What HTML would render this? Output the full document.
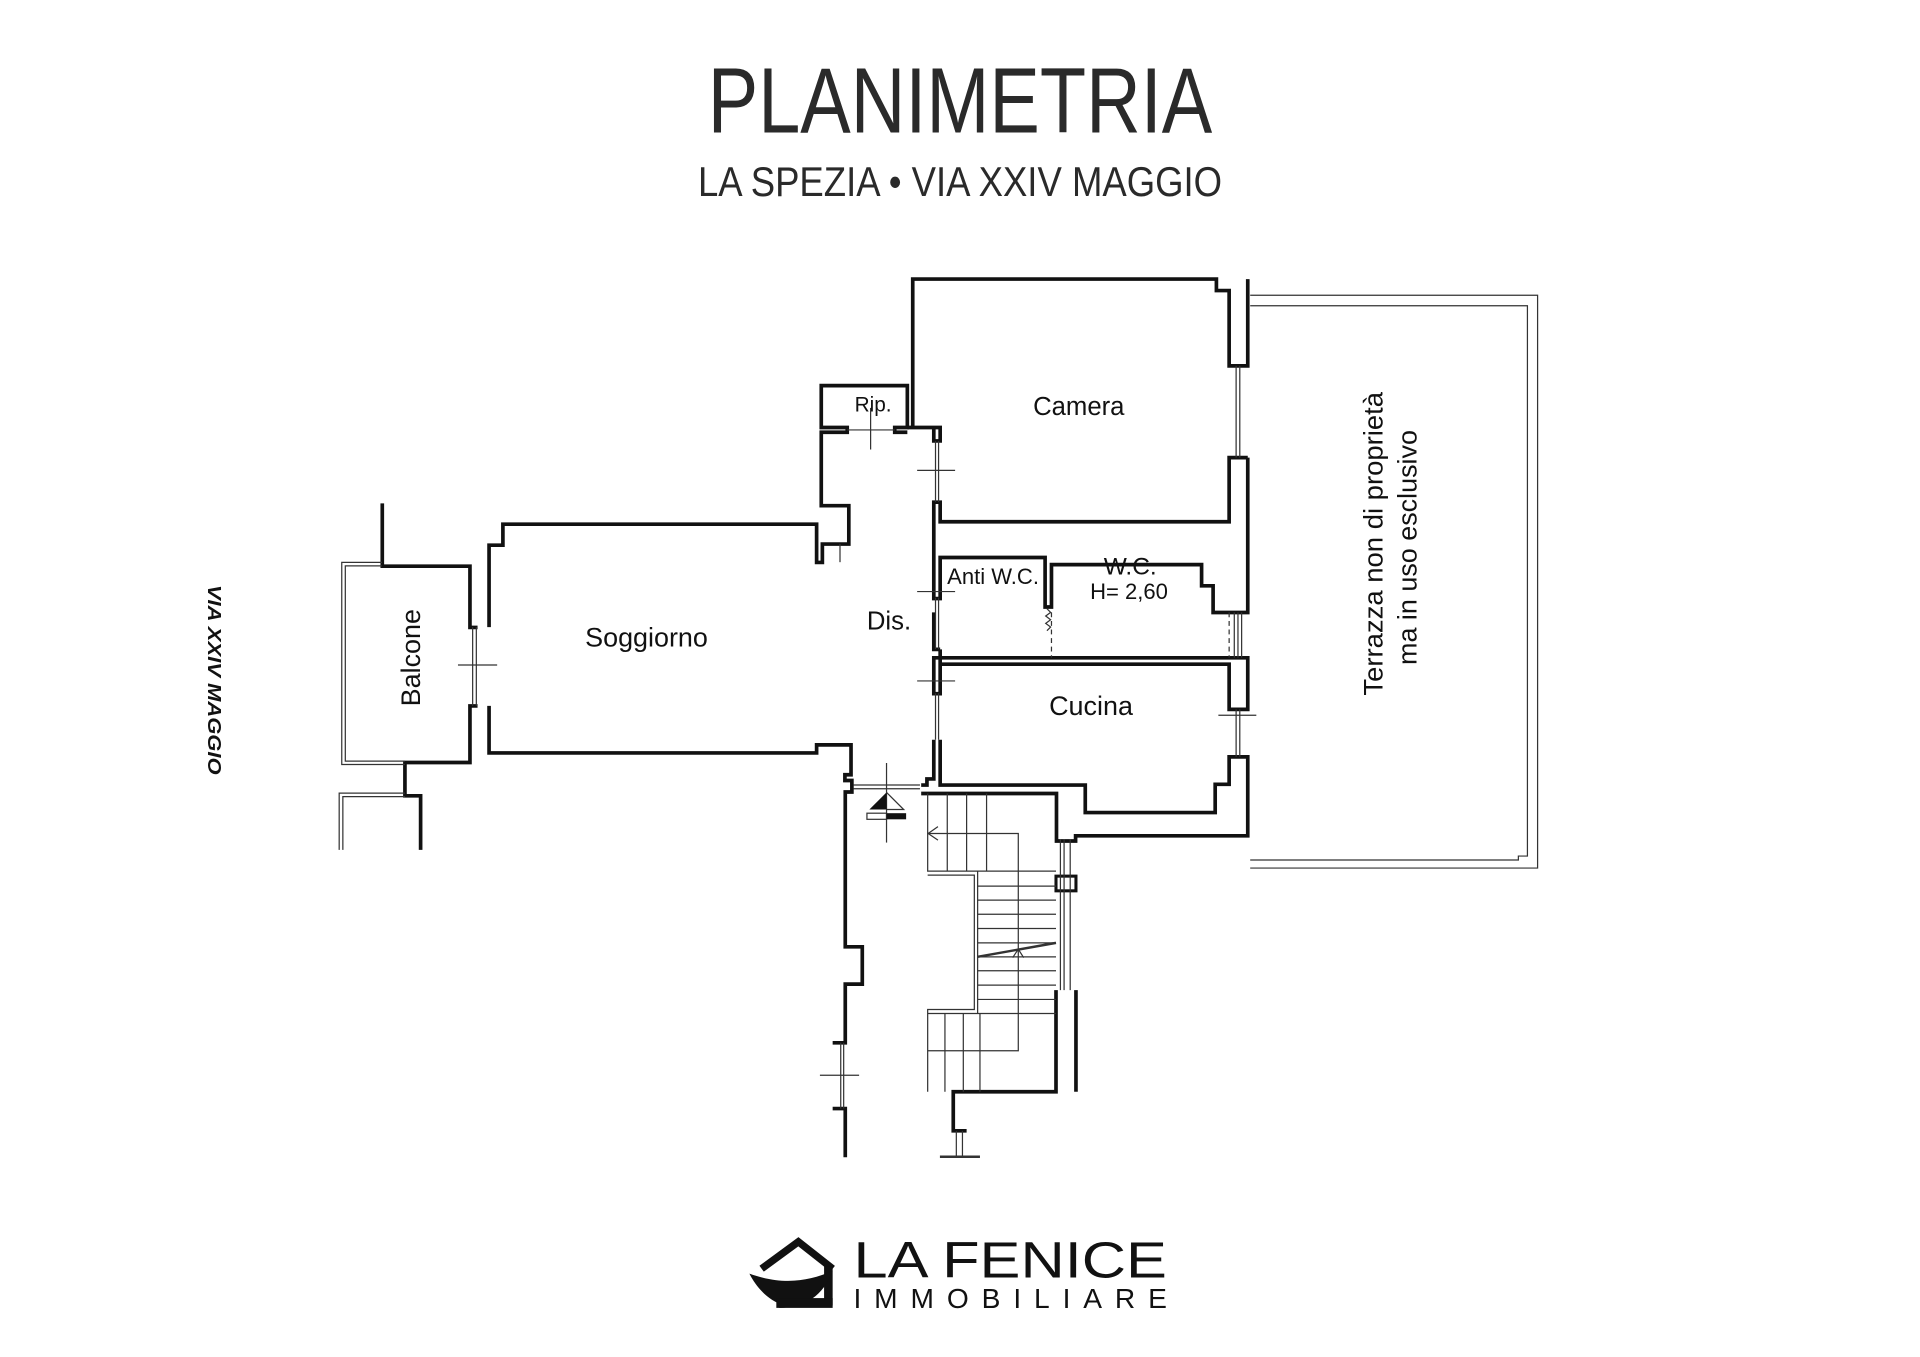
<!DOCTYPE html>
<html><head><meta charset="utf-8"><style>
html,body{margin:0;padding:0;background:#fff;}
svg{display:block}
text{font-family:"Liberation Sans",Arial,sans-serif;fill:#111}
</style></head><body>
<svg width="1920" height="1357" viewBox="0 0 1568 1108" xmlns="http://www.w3.org/2000/svg">
<rect width="1568" height="1108" fill="#fff"/>
<!-- Title -->
<text x="578" y="108" font-size="76" textLength="412" lengthAdjust="spacingAndGlyphs" style="fill:#2a2a2a">PLANIMETRIA</text>
<text x="570" y="160" font-size="34" textLength="428" lengthAdjust="spacingAndGlyphs" style="fill:#2a2a2a">LA SPEZIA •  VIA XXIV MAGGIO</text>

<g fill="none" stroke="#111" stroke-width="3" stroke-linejoin="miter">
<polyline points="312.2,411 312.2,462.3 383.8,462.3 383.8,512.3 390,512.3"/>
<polyline points="390,576.4 383.8,576.4 383.8,622.6 330.7,622.6 330.7,649.8 343.5,649.8 343.5,694"/>
<polyline points="399.4,512 399.4,445.1 410.7,445.1 410.7,428 666.9,428 666.9,459.2 671.6,459.2 671.6,444.2 693.2,444.2 693.2,412.9 670.7,412.9 670.7,352.9 691.9,352.9 691.9,349 670.7,349 670.7,314.8 741,314.8 741,349 730.7,349 730.7,352.9 741,352.9"/>
<polyline points="399.4,576.4 399.4,614.8 666.9,614.8 666.9,608.2 695,608.2 695,632.6 690,632.6 690,637.3 695.7,637.3 695.7,646.7 690.3,646.7 690.3,773.1 704.2,773.1 704.2,803.6 690.3,803.6 690.3,851.5 680,851.5"/>
<polyline points="680,905.2 690.3,905.2 690.3,945"/>
<polyline points="745.4,349 745.4,227.8 993.4,227.8 993.4,237.2 1003.8,237.2 1003.8,298.7 1019,298.7 1019,227.8"/>
<polyline points="741,349 767.8,349 767.8,360 762.6,360 762.6,349"/>
<polyline points="1019,373.6 1003.8,373.6 1003.8,426 767.8,426 767.8,410 762.6,410 762.6,488.7 767.8,488.7 767.8,455.2 853.5,455.2 853.5,495.6 858.7,495.6 858.7,461 981.3,461 981.3,478.3 990.7,478.3 990.7,500.1 1019,500.1 1019,373.6"/>
<polyline points="762.6,500 762.6,530.2 767.8,530.2"/>
<polyline points="767.8,530.2 767.8,542.3 1003.8,542.3 1003.8,579.2 1019,579.2 1019,537.1 762.6,537.1 762.6,566.4 767.8,566.4 767.8,542.3"/>
<polyline points="762.6,604 762.6,636 757,636 757,641 752.3,641"/>
<polyline points="767.8,604 767.8,641 886.3,641 886.3,663.5 992.4,663.5 992.4,640.4 1003.8,640.4 1003.8,618 1019,618 1019,682.5 878.4,682.5 878.4,686.7 862.8,686.7 862.8,647.9 752.3,647.9"/>
<polyline points="862.4,808.5 862.4,891.5 778.5,891.5 778.5,923.4 789.4,923.4"/>
<polyline points="878.7,808.5 878.7,891.5"/>
<rect x="862.4" y="715.4" width="16.3" height="12" stroke-width="2.5"/>
</g>
<g fill="none" stroke="#333" stroke-width="1">
<polyline points="312,459.2 279.1,459.2 279.1,624.2 330.7,624.2"/>
<polyline points="312,462 282,462 282,621.5 330.7,621.5"/>
<polyline points="330.7,647.6 277,647.6 277,694"/>
<polyline points="330.7,650.5 280,650.5 280,694"/>
<line x1="386" y1="512" x2="386" y2="576.4"/><line x1="389" y1="512" x2="389" y2="576.4"/>
<line x1="374" y1="543" x2="406" y2="543"/>
<line x1="691.9" y1="351" x2="730.7" y2="351"/><line x1="711" y1="333" x2="711" y2="367"/>
<line x1="686" y1="444" x2="686" y2="459"/>
<line x1="764" y1="360" x2="764" y2="410"/><line x1="766.5" y1="360" x2="766.5" y2="410"/>
<line x1="764" y1="488" x2="764" y2="530"/><line x1="766.5" y1="488" x2="766.5" y2="530"/>
<line x1="764" y1="566" x2="764" y2="604"/><line x1="766.5" y1="566" x2="766.5" y2="604"/>
<line x1="749" y1="384" x2="780" y2="384"/>
<line x1="749" y1="483" x2="780" y2="483"/>
<line x1="749" y1="556" x2="780" y2="556"/>
<line x1="1009.5" y1="298.7" x2="1009.5" y2="373.6"/><line x1="1012.5" y1="298.7" x2="1012.5" y2="373.6"/>
<line x1="1008" y1="500" x2="1008" y2="537"/><line x1="1011" y1="500" x2="1011" y2="537"/><line x1="1014" y1="500" x2="1014" y2="537"/>
<line x1="1003.8" y1="500" x2="1003.8" y2="537" stroke-dasharray="4,3"/>
<line x1="858.7" y1="500" x2="858.7" y2="537" stroke-dasharray="4,3"/>
<polyline points="855,497 858,500 854,503 858,506 854,509 858,512 855,515"/>
<line x1="1009.5" y1="579.2" x2="1009.5" y2="618"/><line x1="1012.5" y1="579.2" x2="1012.5" y2="618"/>
<line x1="995" y1="584" x2="1026" y2="584"/>
<polyline points="1021,241 1255.7,241 1255.7,708.8 1021,708.8"/>
<polyline points="1021,249.6 1247.4,249.6 1247.4,699 1240,699 1240,702.2 1021,702.2"/>
<line x1="696.9" y1="641" x2="751.3" y2="641"/><line x1="696.9" y1="644" x2="751.3" y2="644"/>
<line x1="724" y1="623" x2="724" y2="688"/>
<line x1="686.6" y1="851.5" x2="686.6" y2="905.2"/><line x1="689" y1="851.5" x2="689" y2="905.2"/>
<line x1="669.6" y1="878" x2="701.6" y2="878"/>
<line x1="866" y1="685.5" x2="866" y2="808.5"/><line x1="869" y1="685.5" x2="869" y2="808.5"/><line x1="874" y1="685.5" x2="874" y2="808.5"/>
<line x1="781" y1="923.4" x2="781" y2="944.6"/><line x1="786" y1="923.4" x2="786" y2="944.6"/>
<line x1="767.6" y1="944.6" x2="800.3" y2="944.6" stroke-width="2"/>
<polyline points="757.6,647.9 757.6,711.3 862.4,711.3"/>
<line x1="773.6" y1="647.9" x2="773.6" y2="711.3"/><line x1="789.4" y1="647.9" x2="789.4" y2="711.3"/><line x1="805.7" y1="647.9" x2="805.7" y2="711.3"/>
<polyline points="757.6,714.6 795.7,714.6 795.7,824.3 757.6,824.3 757.6,891.5"/>
<line x1="798.4" y1="711.3" x2="798.4" y2="827.6"/>
<g>
<line x1="798.4" y1="723.6" x2="862.4" y2="723.6"/><line x1="798.4" y1="735" x2="862.4" y2="735"/><line x1="798.4" y1="746.5" x2="862.4" y2="746.5"/><line x1="798.4" y1="758.2" x2="862.4" y2="758.2"/><line x1="798.4" y1="769.9" x2="862.4" y2="769.9"/><line x1="798.4" y1="781.3" x2="862.4" y2="781.3"/><line x1="798.4" y1="792.7" x2="862.4" y2="792.7"/><line x1="798.4" y1="804.4" x2="862.4" y2="804.4"/><line x1="798.4" y1="816.1" x2="862.4" y2="816.1"/><line x1="757.6" y1="827.6" x2="862.4" y2="827.6"/>
</g>
<polyline points="757.6,680.6 831.6,680.6 831.6,858 757.6,858"/>
<polyline points="766,675 758,680.6 766,686"/>
<polyline points="827,782 831.6,775 836,782"/>
<line x1="771.7" y1="827.6" x2="771.7" y2="891.5"/><line x1="786.7" y1="827.6" x2="786.7" y2="891.5"/><line x1="800.3" y1="827.6" x2="800.3" y2="891.5"/>
<line x1="798.4" y1="781.3" x2="862.4" y2="769.9" stroke-width="2"/>
</g>
<polygon points="724,647 710,661 724,661" fill="#111"/>
<polyline points="724,647 738,661 724,661" fill="none" stroke="#333" stroke-width="1"/>
<rect x="708" y="664" width="16" height="5" fill="none" stroke="#333" stroke-width="1"/>
<rect x="724" y="664" width="16" height="5" fill="#111"/>

<!-- Labels -->
<text x="713" y="336" font-size="17" text-anchor="middle">Rip.</text>
<text x="881" y="339" font-size="21" text-anchor="middle">Camera</text>
<text x="528" y="528" font-size="22" text-anchor="middle">Soggiorno</text>
<text x="726" y="514" font-size="21" text-anchor="middle">Dis.</text>
<text x="811" y="477" font-size="18" text-anchor="middle">Anti W.C.</text>
<text x="923" y="469" font-size="20" text-anchor="middle">W.C.</text>
<text x="922" y="489" font-size="18" text-anchor="middle">H= 2,60</text>
<text x="891" y="584" font-size="22" text-anchor="middle">Cucina</text>
<text transform="translate(343,537) rotate(-90)" font-size="22" text-anchor="middle">Balcone</text>
<text transform="translate(1129,444) rotate(-90)" font-size="22" text-anchor="middle" textLength="248" lengthAdjust="spacingAndGlyphs">Terrazza non di proprietà</text>
<text transform="translate(1157,447) rotate(-90)" font-size="22" text-anchor="middle">ma in uso esclusivo</text>
<text transform="translate(170,555) rotate(90)" font-size="15" font-weight="bold" font-style="italic" text-anchor="middle" textLength="155" lengthAdjust="spacingAndGlyphs">VIA XXIV MAGGIO</text>

<!-- Logo -->
<g>
<polyline points="622,1036 652,1014 680,1036" fill="none" stroke="#111" stroke-width="6"/>
<rect x="673" y="1034" width="7" height="32" fill="#111"/>
<path d="M612,1040 C640,1050 660,1046 680,1038 C672,1058 658,1068 636,1068 L640,1066 C628,1062 618,1052 612,1040 Z" fill="#111"/>
<rect x="634" y="1060" width="46" height="8" fill="#111"/>
</g>
<text x="697" y="1043" font-size="42" textLength="256" lengthAdjust="spacingAndGlyphs" style="fill:#111">LA FENICE</text>
<text x="697" y="1068" font-size="23" textLength="256" lengthAdjust="spacing" style="fill:#111">IMMOBILIARE</text>
</svg>
</body></html>
